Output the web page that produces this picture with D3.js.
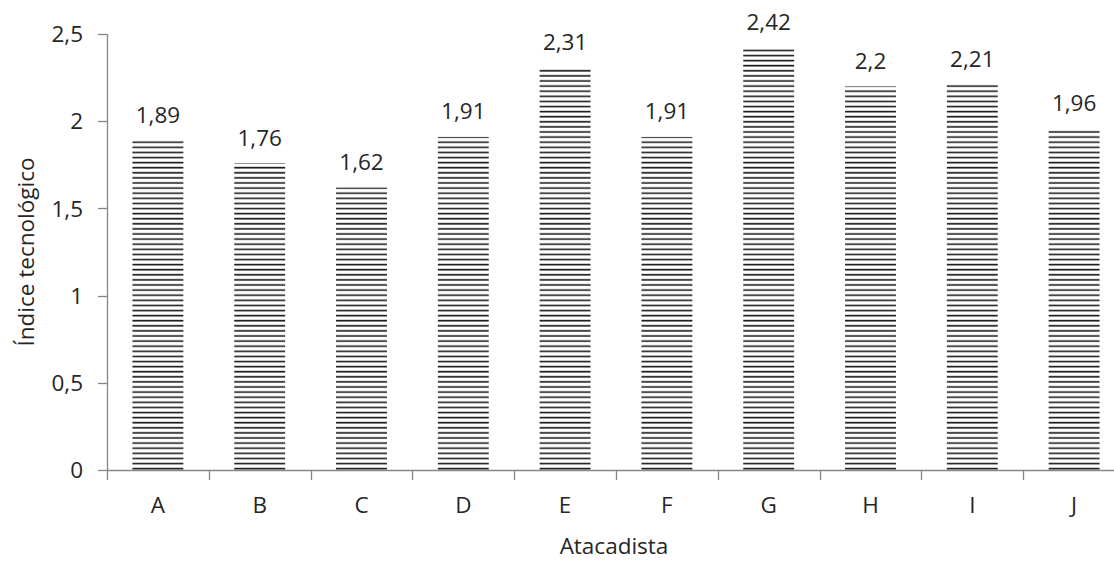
<!DOCTYPE html>
<html>
<head>
<meta charset="utf-8">
<script src="https://cdn.jsdelivr.net/npm/d3@7"></script>
<style>
  html, body { margin: 0; padding: 0; background: #fff; }
  svg { display: block; }
  text { font-family: "Open Sans", sans-serif; fill: #262626; }
</style>
</head>
<body>
<svg id="chart" width="1114" height="565"></svg>
<script>
const categories = ["A", "B", "C", "D", "E", "F", "G", "H", "I", "J"];
const values = [1.89, 1.76, 1.62, 1.91, 2.31, 1.91, 2.42, 2.2, 2.21, 1.96];
const yTicks = [0, 0.5, 1, 1.5, 2, 2.5];
const yLabel = "Índice tecnológico";
const xLabel = "Atacadista";

const svg = d3.select("#chart");
const fmt = v => String(v).replace(".", ",");
const FS = 22.5;

const x = d3.scaleBand().domain(categories).range([107, 1125]).paddingInner(0.5).paddingOuter(0.25);
const xTickScale = d3.scaleLinear().domain([0, categories.length]).range([107, 1125]);
const y = d3.scaleLinear().domain([0, 2.5]).range([470, 34]);

// stripe pattern
const defs = svg.append("defs");
const pat = defs.append("pattern")
  .attr("id", "hstripes")
  .attr("patternUnits", "userSpaceOnUse")
  .attr("x", 0).attr("y", 0.5)
  .attr("width", 10).attr("height", 5.1);
pat.append("rect").attr("x", 0).attr("y", 3.2).attr("width", 10).attr("height", 1.6).attr("fill", "#1a1a1a");

// bars
svg.append("g").selectAll("rect")
  .data(categories)
  .join("rect")
  .attr("x", d => x(d))
  .attr("width", x.bandwidth())
  .attr("y", (d, i) => y(values[i]))
  .attr("height", (d, i) => y(0) - y(values[i]))
  .attr("fill", "url(#hstripes)");

// value labels
svg.append("g").selectAll("text")
  .data(categories)
  .join("text")
  .attr("x", d => x(d) + x.bandwidth() / 2)
  .attr("y", (d, i) => y(values[i]) - 17.5)
  .attr("text-anchor", "middle")
  .attr("font-size", FS)
  .text((d, i) => fmt(values[i]));

// y axis
const axisColor = "#868686";
const yAxis = svg.append("g");
yAxis.append("line").attr("x1", 107.5).attr("x2", 107.5).attr("y1", y(2.5)).attr("y2", y(0)).attr("stroke", axisColor).attr("stroke-width", 1.3);
yAxis.selectAll("line.tick").data(yTicks).join("line").attr("class", "tick")
  .attr("x1", 98).attr("x2", 107.5).attr("y1", d => Math.round(y(d)) + 0.5).attr("y2", d => Math.round(y(d)) + 0.5)
  .attr("stroke", axisColor).attr("stroke-width", 1.3);
yAxis.selectAll("text").data(yTicks).join("text")
  .attr("x", 83).attr("y", d => y(d)).attr("dy", "0.36em")
  .attr("text-anchor", "end").attr("font-size", FS)
  .text(d => fmt(d));

// x axis
const xAxis = svg.append("g");
xAxis.append("line").attr("x1", 107).attr("x2", 1125).attr("y1", 470.5).attr("y2", 470.5).attr("stroke", axisColor).attr("stroke-width", 1.3);
xAxis.selectAll("line.tick").data(d3.range(categories.length + 1)).join("line").attr("class", "tick")
  .attr("x1", d => Math.round(xTickScale(d)) + 0.5).attr("x2", d => Math.round(xTickScale(d)) + 0.5)
  .attr("y1", 470).attr("y2", 480)
  .attr("stroke", axisColor).attr("stroke-width", 1.3);
xAxis.selectAll("text").data(categories).join("text")
  .attr("x", d => x(d) + x.bandwidth() / 2).attr("y", 513)
  .attr("text-anchor", "middle").attr("font-size", FS)
  .text(d => d);

// axis titles
svg.append("text")
  .attr("transform", `translate(34, ${(y(0) + y(2.5)) / 2}) rotate(-90)`)
  .attr("text-anchor", "middle").attr("font-size", FS)
  .text(yLabel);
svg.append("text")
  .attr("x", 614).attr("y", 554)
  .attr("text-anchor", "middle").attr("font-size", FS)
  .text(xLabel);
</script>
</body>
</html>
